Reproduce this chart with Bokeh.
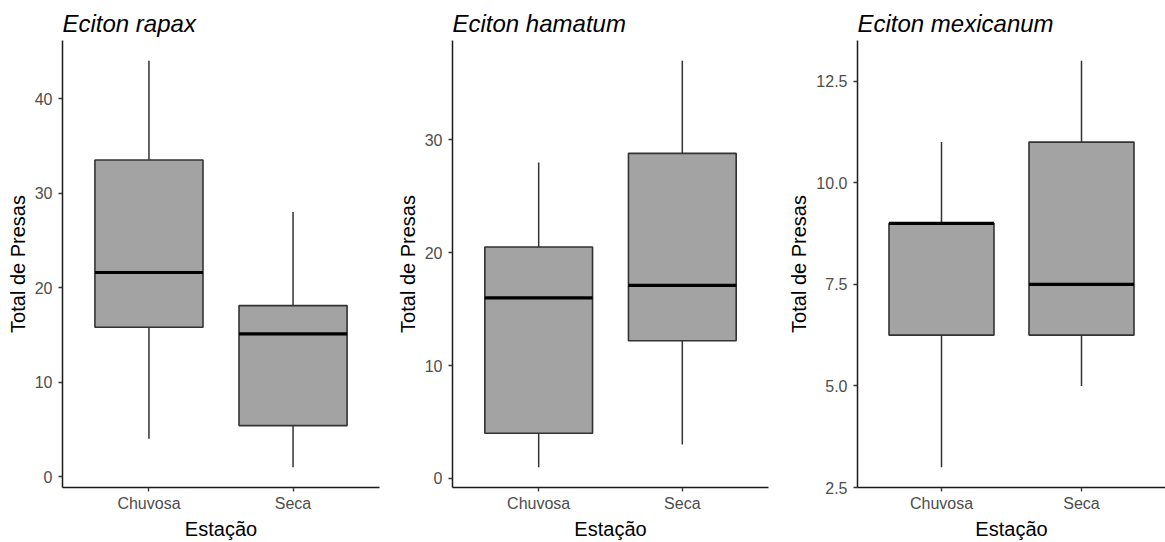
from bokeh.plotting import figure
from bokeh.models import Range1d, FactorRange, FixedTicker, ColumnDataSource, PrintfTickFormatter
from bokeh.transform import dodge
from bokeh.layouts import row
from bokeh.embed import file_html
from bokeh.resources import INLINE

seasons = ["Chuvosa", "Seca"]

titles = ["Eciton rapax", "Eciton hamatum", "Eciton mexicanum"]

# five-number summaries per species (Chuvosa, Seca)
rapax_min = [4, 1]
rapax_q1 = [15.8, 5.4]
rapax_med = [21.6, 15.1]
rapax_q3 = [33.5, 18.1]
rapax_max = [44, 28]

hamatum_min = [1, 3]
hamatum_q1 = [4, 12.2]
hamatum_med = [16, 17.1]
hamatum_q3 = [20.5, 28.8]
hamatum_max = [28, 37]

mexicanum_min = [3, 5]
mexicanum_q1 = [6.25, 6.25]
mexicanum_med = [9, 7.5]
mexicanum_q3 = [9, 11]
mexicanum_max = [11, 13]

rapax_ticks = [0, 10, 20, 30, 40]
hamatum_ticks = [0, 10, 20, 30]
mexicanum_ticks = [2.5, 5.0, 7.5, 10.0, 12.5]

FONT = "Liberation Sans"


def make_panel(title, lo, q1, med, q3, hi, ticks, fmt, width, left, right):
    ymin, ymax = min(lo), max(hi)
    span = ymax - ymin
    p = figure(
        width=width, height=542,
        x_range=FactorRange(*seasons, range_padding=0.1),
        y_range=Range1d(ymin - 0.05 * span, ymax + 0.05 * span),
        output_backend="svg", toolbar_location=None,
        min_border_left=left, min_border_right=right,
        min_border_top=40, min_border_bottom=52,
    )
    p.outline_line_color = None
    p.xgrid.visible = False
    p.ygrid.visible = False
    p.background_fill_color = "white"
    p.border_fill_color = "white"

    p.title.text = title
    p.title.text_font = FONT
    p.title.text_font_style = "italic"
    p.title.text_font_size = "24px"
    p.title.text_color = "black"
    p.title.align = "left"
    p.title.standoff = 8
    p.title.offset = 0

    src = ColumnDataSource(dict(x=seasons, lo=lo, q1=q1, med=med, q3=q3, hi=hi))

    p.segment(x0="x", x1="x", y0="lo", y1="hi", source=src,
              line_color="#333333", line_width=1.5)
    p.vbar(x="x", bottom="q1", top="q3", width=0.75, source=src,
           fill_color="#A3A3A3", line_color="#333333", line_width=1.6)
    p.segment(x0=dodge("x", -0.375, range=p.x_range), x1=dodge("x", 0.375, range=p.x_range),
              y0="med", y1="med", source=src, line_color="black", line_width=3.2)

    for ax in (p.xaxis[0], p.yaxis[0]):
        ax.axis_line_color = "#1a1a1a"
        ax.axis_line_width = 1.5
        ax.major_tick_line_color = "#333333"
        ax.major_tick_line_width = 1.3
        ax.major_tick_out = 4
        ax.major_tick_in = 0
        ax.minor_tick_line_color = None
        ax.major_label_text_font = FONT
        ax.major_label_text_font_size = "16px"
        ax.major_label_text_color = "#4D4D4D"
        ax.axis_label_text_font = FONT
        ax.axis_label_text_font_size = "20px"
        ax.axis_label_text_font_style = "normal"
        ax.axis_label_text_color = "black"

    p.xaxis.axis_label = "Estação"
    p.xaxis.major_label_standoff = 3
    p.xaxis.axis_label_standoff = 3

    p.yaxis.axis_label = "Total de Presas"
    p.yaxis.ticker = FixedTicker(ticks=ticks)
    p.yaxis.formatter = PrintfTickFormatter(format=fmt)
    p.yaxis.major_label_standoff = 6
    p.yaxis.axis_label_standoff = 3
    return p


p1 = make_panel(titles[0], rapax_min, rapax_q1, rapax_med, rapax_q3, rapax_max,
                rapax_ticks, "%d", 388, 62, 9)
p2 = make_panel(titles[1], hamatum_min, hamatum_q1, hamatum_med, hamatum_q3, hamatum_max,
                hamatum_ticks, "%d", 390, 64, 10)
p3 = make_panel(titles[2], mexicanum_min, mexicanum_q1, mexicanum_med, mexicanum_q3, mexicanum_max,
                mexicanum_ticks, "%.1f", 387, 79, 0)

layout = row(p1, p2, p3)

open("out.html", "w").write(file_html(layout, INLINE))
